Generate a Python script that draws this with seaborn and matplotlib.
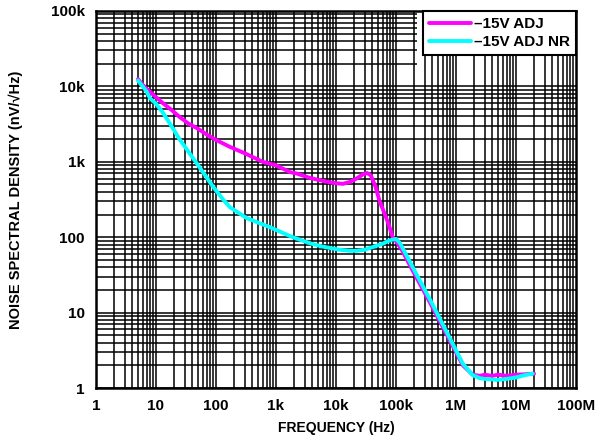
import numpy as np
import pandas as pd
import seaborn as sns
import matplotlib
matplotlib.use("Agg")
import matplotlib.pyplot as plt
from matplotlib.ticker import FixedLocator, FixedFormatter, NullFormatter
from matplotlib.patches import Rectangle
from matplotlib.lines import Line2D

# ---- data ----
freq_adj = [5, 6, 7, 7.9, 10, 13, 18, 25, 35, 48, 70, 100, 170, 300, 600, 1000,
            1700, 2200, 3700, 6000, 8900, 13000, 17000, 22000, 28000, 33000, 38000,
            45000, 54000, 61000, 75000, 89000, 100000, 120000, 190000, 370000,
            710000, 1300000, 1900000, 2500000, 3000000, 4000000, 5000000, 7000000,
            10000000, 14000000, 20000000]
nsd_adj = [12500, 10500, 9300, 8500, 7200, 6000, 4900, 3900, 3200, 2800, 2300, 1950,
           1580, 1300, 1000, 900, 730, 700, 610, 560, 525, 510, 540, 600, 680, 710, 660,
           480, 290, 230, 150, 98, 88, 72, 36, 13.5, 5.0, 2.0, 1.5, 1.45, 1.5, 1.45,
           1.5, 1.45, 1.5, 1.52, 1.55]

freq_nr = [5, 6, 7, 7.9, 10, 13, 18, 25, 35, 48, 70, 89, 130, 170, 330, 790, 1000,
           1900, 3700, 6000, 11700, 17000, 22000, 30000, 41000, 60000, 79000, 100000,
           117000, 190000, 370000, 710000, 1300000, 1900000, 2500000, 3000000,
           4000000, 4800000, 7000000, 10000000, 14000000, 19000000]
nsd_nr = [12000, 10000, 8500, 7000, 5900, 4500, 3000, 1960, 1350, 950, 620, 470, 320,
          250, 178, 136, 125, 100, 83, 75, 68, 66, 66, 68, 74, 82, 91, 95, 83, 40, 14.8,
          5.4, 2.1, 1.48, 1.35, 1.32, 1.3, 1.28, 1.32, 1.38, 1.48, 1.55]

series_names = ["\u201315V ADJ", "\u201315V ADJ NR"]
series_colors = ["#FF00FF", "#00FFFF"]

x_ticks = [1, 10, 100, 1e3, 1e4, 1e5, 1e6, 1e7, 1e8]
x_labels = ["1", "10", "100", "1k", "10k", "100k", "1M", "10M", "100M"]
y_ticks = [1, 10, 100, 1e3, 1e4, 1e5]
y_labels = ["1", "10", "100", "1k", "10k", "100k"]

df = pd.concat([
    pd.DataFrame({"f": freq_adj, "nsd": nsd_adj, "series": series_names[0]}),
    pd.DataFrame({"f": freq_nr, "nsd": nsd_nr, "series": series_names[1]}),
], ignore_index=True)

sns.set_theme(style="white")
plt.rcParams["font.family"] = ["Liberation Sans", "DejaVu Sans"]
plt.rcParams["font.weight"] = "bold"
plt.rcParams["text.color"] = "black"
plt.rcParams["axes.labelcolor"] = "black"

fig = plt.figure(figsize=(5.96, 4.42), dpi=100)
ax = fig.add_axes([96 / 596, 1 - 388 / 442, 480 / 596, 377 / 442])

sns.lineplot(data=df, x="f", y="nsd", hue="series", hue_order=series_names,
             palette=series_colors, sort=False, estimator=None, lw=2.8,
             ax=ax, legend=False, zorder=3)

ax.set_xscale("log")
ax.set_yscale("log")
ax.set_xlim(1, 1e8)
ax.set_ylim(1, 1e5)

ax.xaxis.set_major_locator(FixedLocator(x_ticks))
ax.xaxis.set_major_formatter(FixedFormatter(x_labels))
ax.yaxis.set_major_locator(FixedLocator(y_ticks))
ax.yaxis.set_major_formatter(FixedFormatter(y_labels))
minor_x = [k * 10 ** d for d in range(8) for k in range(2, 10)]
minor_y = [k * 10 ** d for d in range(5) for k in range(2, 10)]
ax.xaxis.set_minor_locator(FixedLocator(minor_x))
ax.yaxis.set_minor_locator(FixedLocator(minor_y))
ax.xaxis.set_minor_formatter(NullFormatter())
ax.yaxis.set_minor_formatter(NullFormatter())

# horizontal grid
ax.set_axisbelow(True)
ax.grid(axis="y", which="both", color="black", lw=1.1)
ax.grid(axis="x", which="both", visible=False)

# white area under legend (hides horizontal grid lines there)
ax.add_patch(Rectangle((2.2e5, 1.2e4), 1e8 - 2.2e5, 1e5 - 1.2e4,
                       facecolor="white", edgecolor="none", zorder=1.0))
# vertical grid
for v in x_ticks[1:-1] + minor_x:
    ax.axvline(v, color="black", lw=1.1, zorder=1.2)

ax.tick_params(axis="both", which="both", length=0, labelsize=11,
               labelcolor="black")
ax.tick_params(axis="x", pad=8)
ax.tick_params(axis="y", pad=8)
for lab in ax.get_xticklabels() + ax.get_yticklabels():
    lab.set_fontweight("bold")

for s in ax.spines.values():
    s.set_color("black")
    s.set_linewidth(1.8)
    s.set_zorder(4)

ax.set_xlabel("FREQUENCY (Hz)", fontsize=10, fontweight="bold", labelpad=6,
              color="black")
ax.set_ylabel("NOISE SPECTRAL DENSITY (nV/\u221aHz)", fontsize=10.5,
              fontweight="bold", labelpad=20, color="black")

handles = [Line2D([], [], color=c, lw=2.8) for c in series_colors]
leg = ax.legend(handles, series_names, loc="upper right", frameon=True,
                fancybox=False, framealpha=1, edgecolor="black",
                borderaxespad=0, handlelength=2.75, handletextpad=0.2,
                borderpad=0.4, labelspacing=0.25,
                prop={"weight": "bold", "size": 11})
leg.get_frame().set_linewidth(1.5)
leg.set_zorder(5)
for t in leg.get_texts():
    t.set_color("black")

fig.savefig("out.png", dpi=100)
